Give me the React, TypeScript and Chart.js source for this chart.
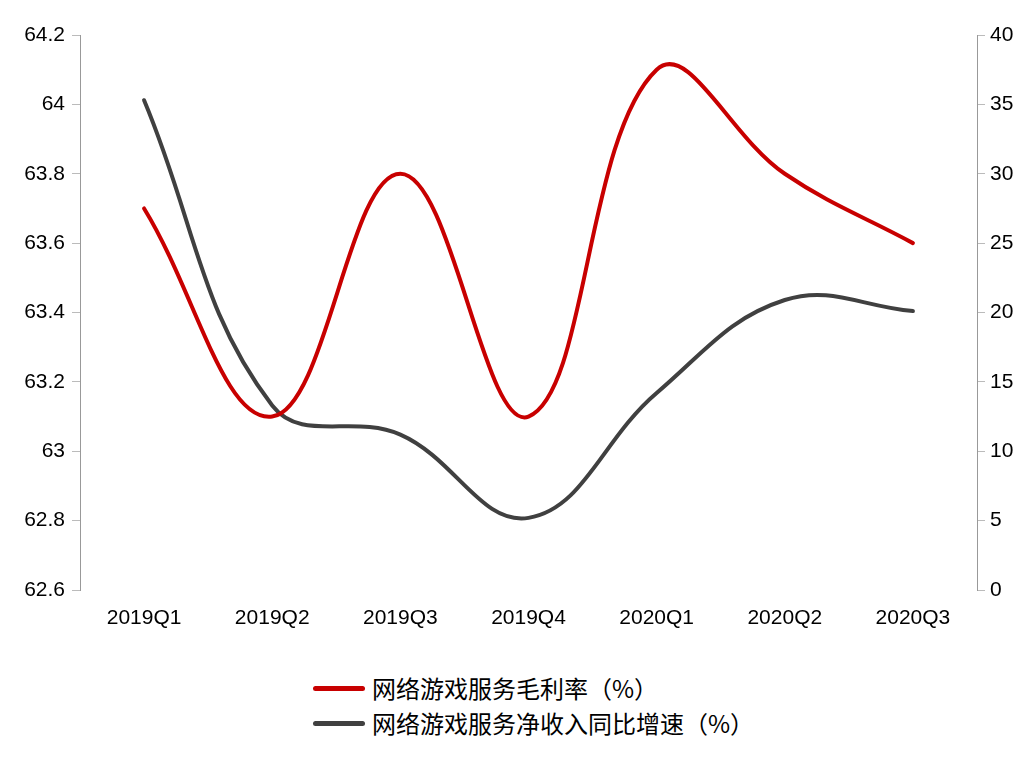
import React, { useEffect, useRef } from "react";
import { Chart, registerables } from "chart.js";

Chart.register(...registerables);

const categories = ["2019Q1", "2019Q2", "2019Q3", "2019Q4", "2020Q1", "2020Q2", "2020Q3"];
const grossMargin = [63.7, 63.1, 63.8, 63.1, 64.1, 63.8, 63.6];
const revenueGrowth = [35.3, 13.3, 11.2, 5.2, 14.2, 20.9, 20.1];
const seriesNames = ["网络游戏服务毛利率（%）", "网络游戏服务净收入同比增速（%）"];
const seriesColors = ["#C80000", "#404040"];

const numFont = { family: "'Liberation Sans', Arial, sans-serif", size: 21 };

export default function App() {
  const ref = useRef<HTMLCanvasElement | null>(null);

  useEffect(() => {
    document.body.style.margin = "0";
    const canvas = ref.current;
    if (!canvas) return;
    const chart = new Chart(canvas, {
      type: "line",
      data: {
        labels: categories,
        datasets: [
          {
            label: seriesNames[0],
            data: grossMargin,
            yAxisID: "y",
            borderColor: seriesColors[0],
            backgroundColor: seriesColors[0],
            borderWidth: 4,
            tension: 0.4,
            pointRadius: 0,
            borderCapStyle: "round",
            borderJoinStyle: "round",
          },
          {
            label: seriesNames[1],
            data: revenueGrowth,
            yAxisID: "y1",
            borderColor: seriesColors[1],
            backgroundColor: seriesColors[1],
            borderWidth: 4,
            tension: 0.4,
            pointRadius: 0,
            borderCapStyle: "round",
            borderJoinStyle: "round",
          },
        ],
      },
      options: {
        responsive: false,
        animation: false,
        layout: { padding: { top: 35, left: 0, right: 0, bottom: 0 } },
        plugins: {
          legend: { display: false },
          tooltip: { enabled: false },
        },
        scales: {
          x: {
            offset: true,
            grid: { display: false, drawTicks: false },
            border: { display: false },
            ticks: { color: "#000", font: numFont, padding: 16, maxRotation: 0 },
            afterFit: (s: any) => {
              s.height = 50;
            },
          },
          y: {
            position: "left",
            min: 62.6,
            max: 64.2,
            grid: { drawOnChartArea: false, drawTicks: true, tickLength: 8, color: "#bbbbbb" },
            border: { display: true, color: "#999999", width: 1 },
            ticks: {
              stepSize: 0.2,
              color: "#000",
              font: numFont,
              padding: 7,
              callback: (v: any) => String(Math.round(Number(v) * 10) / 10),
            },
            afterFit: (s: any) => {
              s.width = 80;
            },
          },
          y1: {
            position: "right",
            min: 0,
            max: 40,
            grid: { drawOnChartArea: false, drawTicks: true, tickLength: 8, color: "#bbbbbb" },
            border: { display: true, color: "#999999", width: 1 },
            ticks: { stepSize: 5, color: "#000", font: numFont, padding: 5 },
            afterFit: (s: any) => {
              s.width = 59;
            },
          },
        },
      },
    });
    return () => chart.destroy();
  }, []);

  const legendRow = (i: number, top: number) => (
    <div
      key={i}
      style={{
        position: "absolute",
        left: 313,
        top,
        display: "flex",
        alignItems: "center",
        height: 30,
      }}
    >
      <div
        style={{
          width: 52,
          height: 5,
          borderRadius: 3,
          background: seriesColors[i],
          marginRight: 7,
        }}
      />
      <span
        style={{
          fontFamily: "'Noto Sans CJK SC', sans-serif",
          fontSize: 24,
          color: "#000",
          lineHeight: "30px",
          whiteSpace: "nowrap",
        }}
      >
        {seriesNames[i]}
      </span>
    </div>
  );

  return (
    <div style={{ position: "relative", width: 1036, height: 758, background: "#fff" }}>
      <canvas ref={ref} width={1036} height={640} style={{ display: "block" }} />
      {legendRow(0, 673)}
      {legendRow(1, 708)}
    </div>
  );
}
